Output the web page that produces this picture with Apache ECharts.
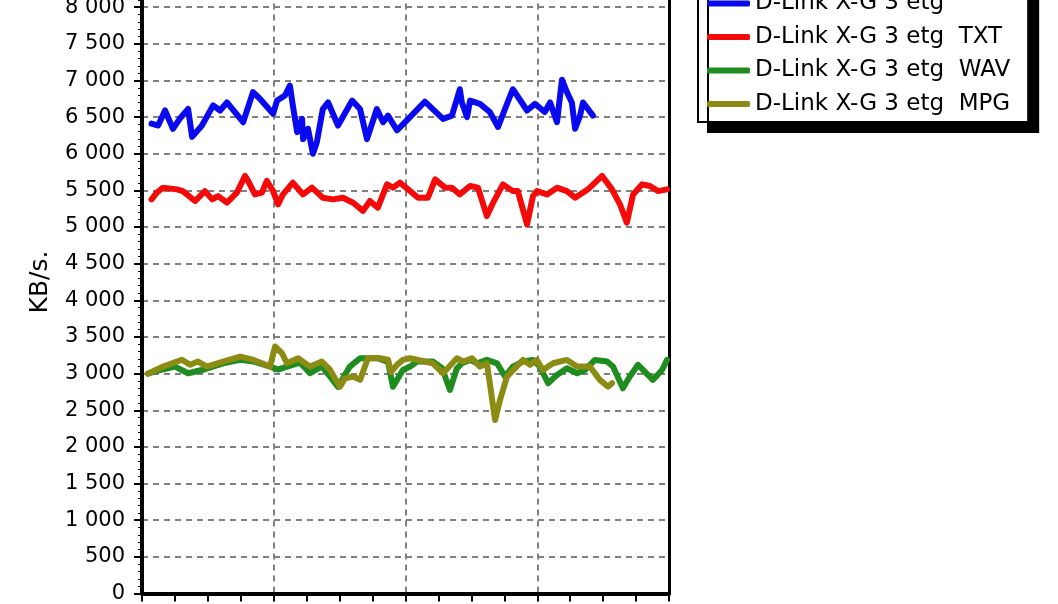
<!DOCTYPE html>
<html>
<head>
<meta charset="utf-8">
<script src="https://cdn.jsdelivr.net/npm/echarts@6/dist/echarts.min.js"></script>
<style>
html,body{margin:0;padding:0;background:#fff;overflow:hidden;}
#wrap{position:relative;width:1058px;height:604px;overflow:hidden;}
#chart{position:absolute;left:0;top:-40px;width:1058px;height:644px;}
</style>
</head>
<body>
<div id="wrap"><div id="chart"></div></div>
<script>
// Series names
var seriesNames = ['D-Link X-G 3 etg', 'D-Link X-G 3 etg  TXT', 'D-Link X-G 3 etg  WAV', 'D-Link X-G 3 etg  MPG'];
var seriesColors = ['#0a0af0', '#f50a0a', '#1e8c1e', '#8c8c14'];

// Y ticks
var yMin = 0, yMax = 8500, yStep = 500;
// X axis (time, unlabeled in the crop)
var xMin = 0, xMax = 160, xStep = 10, xGridStep = 40;

// Blue
var blueX = [2.9,4.9,7.0,9.4,11.5,14.0,15.2,18.2,21.6,23.7,25.8,30.7,33.7,35.8,39.8,41.0,43.4,44.9,45.8,47.1,48.6,48.9,50.4,51.9,53.1,54.9,56.5,59.5,63.8,66.2,68.3,71.3,73.2,74.7,77.4,80.4,85.9,91.4,94.1,96.5,97.1,98.7,99.6,102.6,105.6,108.1,110.2,112.6,116.9,119.3,122.3,123.9,126.0,127.5,129.0,130.5,131.5,133.0,133.9,135.4,136.9];
var blueY = [6410,6385,6590,6340,6480,6610,6230,6385,6660,6590,6700,6430,6840,6750,6545,6725,6795,6930,6660,6295,6475,6200,6340,6000,6160,6610,6700,6385,6725,6610,6200,6610,6430,6520,6320,6455,6710,6475,6520,6880,6700,6500,6725,6680,6570,6365,6610,6880,6590,6680,6570,6700,6430,7010,6840,6700,6340,6520,6700,6610,6520];

// Red (TXT)
var redX = [2.9,4.5,6.4,10.6,12.4,16.1,19.1,21.3,23.1,25.8,28.8,31.3,32.2,34.3,36.4,37.9,39.8,41.3,42.8,45.8,48.9,51.6,54.9,58.0,61.0,64.1,67.1,69.2,71.6,74.4,76.2,78.3,80.8,83.8,86.8,89.0,92.0,94.1,96.5,99.6,102.0,104.7,106.6,109.6,112.6,114.1,116.9,118.7,119.9,123.0,126.0,129.0,131.5,135.4,139.7,142.7,145.1,147.2,149.1,151.8,154.2,156.7,159.4];
var redY = [5377,5470,5537,5514,5490,5355,5490,5377,5423,5332,5470,5697,5630,5445,5470,5630,5490,5310,5445,5605,5445,5537,5400,5377,5400,5332,5220,5355,5264,5582,5537,5605,5514,5400,5400,5650,5537,5537,5445,5560,5537,5150,5332,5582,5490,5490,5035,5423,5490,5445,5537,5490,5400,5514,5697,5514,5310,5060,5445,5582,5560,5490,5514];

// Green (WAV)
var greenX = [1.8,5.5,10.0,14.0,19.1,24.6,29.8,34.3,38.9,41.3,44.0,48.0,51.0,54.6,57.1,59.5,63.1,66.2,71.6,74.7,76.2,79.2,81.4,83.5,88.3,91.1,93.5,95.6,97.1,99.6,101.7,104.7,107.8,110.2,112.6,115.7,118.7,120.8,123.3,126.0,129.0,132.1,134.5,137.5,141.2,143.0,146.0,148.1,150.6,155.1,157.9,159.4];
var greenY = [3000,3050,3096,3005,3060,3140,3190,3160,3096,3055,3096,3150,3005,3100,2960,2820,3096,3210,3210,3160,2820,3050,3096,3165,3165,3073,2777,3073,3141,3187,3141,3187,3141,2960,3096,3165,3187,3096,2868,2982,3073,3005,3050,3187,3165,3096,2800,2960,3120,2914,3050,3187];

// Olive (MPG)
var oliveX = [1.8,6.4,12.1,14.6,17.0,19.7,24.6,29.8,33.7,38.9,40.4,42.5,44.0,47.4,51.0,54.6,57.1,60.1,61.6,64.1,66.2,68.6,72.3,74.7,75.6,77.4,79.2,81.4,88.3,91.4,95.6,97.5,100.2,102.6,104.7,105.6,107.2,108.7,110.8,115.7,117.8,119.9,121.7,124.8,129.0,132.1,136.0,139.0,141.5,142.7];
var oliveY = [3000,3096,3190,3120,3165,3096,3165,3233,3190,3096,3370,3278,3141,3210,3096,3165,3050,2822,2935,2960,2915,3210,3210,3190,3020,3120,3187,3210,3141,3005,3210,3165,3210,3096,3141,2868,2366,2640,2960,3187,3120,3187,3050,3141,3187,3096,3096,2914,2822,2868];

function pairs(xs, ys) { return xs.map(function (x, i) { return [x, ys[i]]; }); }
var allX = [blueX, redX, greenX, oliveX];
var allY = [blueY, redY, greenY, oliveY];

function fmt(v) {
  if (v < 1000) return String(v);
  var t = Math.floor(v / 1000), r = v % 1000;
  return t + ' ' + ('00' + r).slice(-3);
}

var FONT = 'DejaVu Sans';
var chart = echarts.init(document.getElementById('chart'), null, {renderer: 'canvas'});
var series = seriesNames.map(function (n, i) {
  return {
    name: n, type: 'line', data: pairs(allX[i], allY[i]),
    showSymbol: false, symbol: 'none', smooth: false,
    lineStyle: {width: 6, color: seriesColors[i], join: 'round', cap: 'round'},
    itemStyle: {color: seriesColors[i]},
    animation: false
  };
});

chart.setOption({
  animation: false,
  backgroundColor: '#fff',
  grid: {left: 142, right: 389, top: 10.4, bottom: 6.5},
  legend: {
    orient: 'vertical', left: 698, top: 25.5,
    data: seriesNames,
    icon: 'roundRect', itemWidth: 43, itemHeight: 6, itemGap: 7.5,
    padding: [5, 18, 5, 9],
    backgroundColor: '#fff', borderColor: '#000', borderWidth: 2,
    shadowColor: '#000', shadowBlur: 0, shadowOffsetX: 10, shadowOffsetY: 10,
    textStyle: {fontFamily: FONT, fontSize: 23, color: '#000', lineHeight: 26},
    selectedMode: false
  },
  xAxis: [{
    type: 'value', min: xMin, max: xMax, interval: xStep, position: 'bottom',
    axisLine: {show: true, onZero: false, lineStyle: {color: '#000', width: 4}},
    axisTick: {show: true, length: 8, lineStyle: {color: '#000', width: 2}},
    axisLabel: {show: false},
    splitLine: {show: false}
  }, {
    type: 'value', min: xMin, max: xMax, interval: xGridStep, position: 'top',
    axisLine: {show: false}, axisTick: {show: false}, axisLabel: {show: false},
    splitLine: {show: true, lineStyle: {color: '#808080', width: 2, type: [6, 5]}}
  }],
  yAxis: [{
    type: 'value', min: yMin, max: yMax, interval: yStep, position: 'left',
    name: 'KB/s.', nameLocation: 'middle', nameRotate: 90, nameGap: 89,
    nameTextStyle: {fontFamily: FONT, fontSize: 25, color: '#000'},
    axisLine: {show: true, onZero: false, lineStyle: {color: '#000', width: 4}},
    axisTick: {show: true, length: 8, lineStyle: {color: '#000', width: 2}},
    minorTick: {show: true, splitNumber: 5, length: 4, lineStyle: {color: '#000', width: 1}},
    axisLabel: {fontFamily: FONT, fontSize: 21, color: '#000', margin: 17, formatter: fmt},
    splitLine: {show: true, lineStyle: {color: '#808080', width: 2, type: [6, 5]}}
  }, {
    type: 'value', min: yMin, max: yMax, interval: yStep, position: 'right',
    axisLine: {show: true, onZero: false, lineStyle: {color: '#000', width: 3}},
    axisTick: {show: false}, axisLabel: {show: false}, splitLine: {show: false}
  }],
  series: series
});
</script>
</body>
</html>
